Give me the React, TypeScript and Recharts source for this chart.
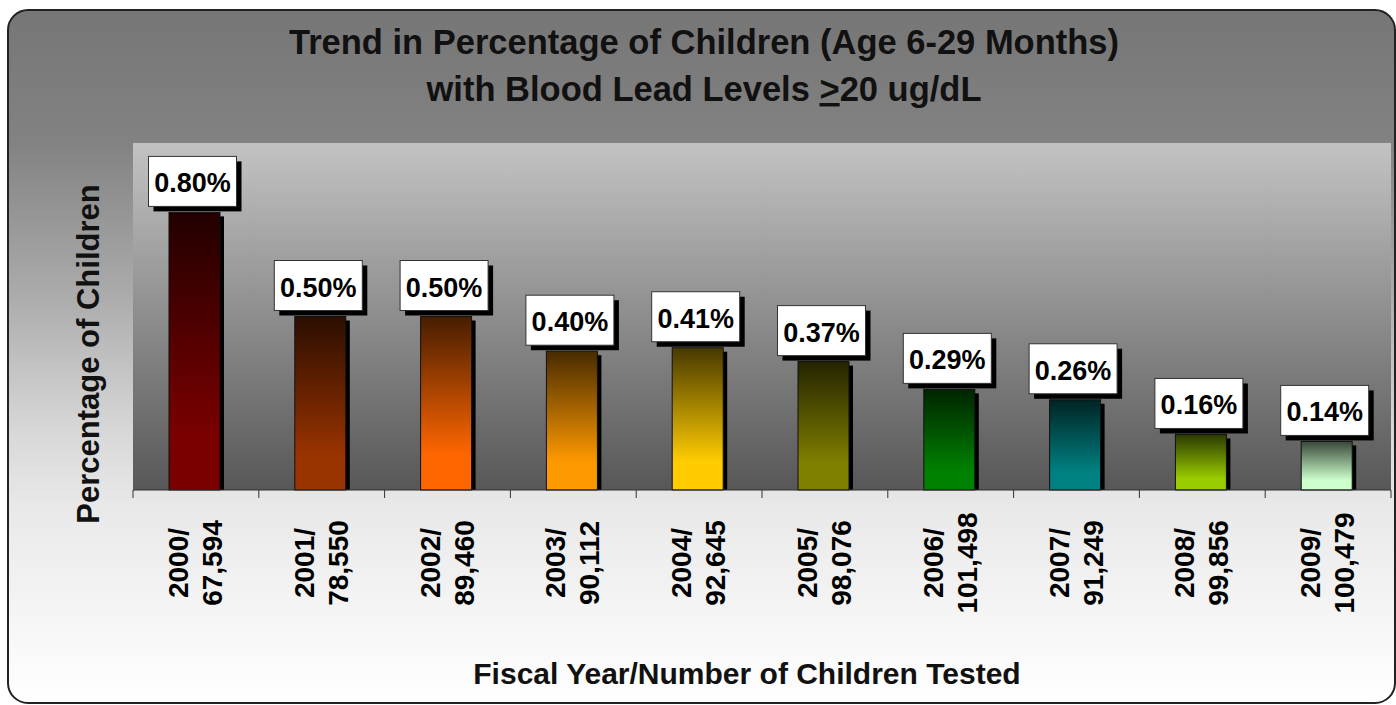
import React from 'react';
import { BarChart, Bar, XAxis, YAxis, CartesianGrid, LabelList } from 'recharts';

const YEARS = ['2000', '2001', '2002', '2003', '2004', '2005', '2006', '2007', '2008', '2009'];
const TESTED = ['67,594', '78,550', '89,460', '90,112', '92,645', '98,076', '101,498', '91,249', '99,856', '100,479'];
const PERCENT = [0.8, 0.5, 0.5, 0.4, 0.41, 0.37, 0.29, 0.26, 0.16, 0.14];

const BAR_COLORS = [
  '#7a0000', // dark red
  '#993300', // brown
  '#ff6600', // orange
  '#ff9900', // light orange
  '#ffcc00', // gold
  '#808000', // olive
  '#008000', // green
  '#008080', // teal
  '#99cc00', // lime
  '#ccffcc', // pale green
];

const W = 1396;
const H = 705;
const PLOT = { left: 133, top: 143, right: 1391, bottom: 490 };
const BAND = (PLOT.right - PLOT.left) / YEARS.length;
const FONT = "'Liberation Sans', Arial, sans-serif";

const data = YEARS.map((year, i) => ({ year, tested: TESTED[i], value: PERCENT[i] }));

function darken(hex: string, f: number) {
  const n = parseInt(hex.slice(1), 16);
  const r = Math.round(((n >> 16) & 255) * f);
  const g = Math.round(((n >> 8) & 255) * f);
  const b = Math.round((n & 255) * f);
  return `rgb(${r},${g},${b})`;
}

function YearTick(props: any) {
  const { x, payload } = props;
  const i = YEARS.indexOf(payload.value);
  const left = x - BAND / 2;
  return (
    <g>
      <line x1={left} x2={left} y1={PLOT.bottom} y2={PLOT.bottom + 8} stroke="#333" />
      {i === YEARS.length - 1 && (
        <line x1={x + BAND / 2} x2={x + BAND / 2} y1={PLOT.bottom} y2={PLOT.bottom + 8} stroke="#333" />
      )}
      <text
        transform={`translate(${x},563) rotate(-90)`}
        textAnchor="middle"
        fontSize={28}
        fontWeight="bold"
        fontFamily={FONT}
        fill="#000"
      >
        <tspan x={0} y={-8}>{payload.value}/</tspan>
        <tspan x={0} y={26}>{TESTED[i]}</tspan>
      </text>
    </g>
  );
}

function BarShape(props: any) {
  const { x, y, width, height, index } = props;
  const bx = x - 1;
  return (
    <g>
      <rect x={bx + 4} y={y + 4} width={width} height={Math.max(0, height - 4)} fill="#000" />
      <rect x={bx} y={y} width={width} height={height} fill={`url(#barGrad${index})`} stroke="#111" strokeWidth={1} />
    </g>
  );
}

function LabelBox(props: any) {
  const { x, y, width, value } = props;
  const cx = x + width / 2 - 3;
  const bw = 88;
  const bh = 50;
  const top = y - 6 - bh;
  return (
    <g>
      <rect x={cx - bw / 2 + 5} y={top + 5} width={bw} height={bh} fill="#000" />
      <rect x={cx - bw / 2} y={top} width={bw} height={bh} fill="#fff" stroke="#333" strokeWidth={1} />
      <text x={cx} y={top + 36} textAnchor="middle" fontSize={27} fontWeight="bold" fontFamily={FONT} fill="#000">
        {`${Number(value).toFixed(2)}%`}
      </text>
    </g>
  );
}

export default function App() {
  return (
    <div style={{ position: 'absolute', left: 0, top: 0, width: W, height: H, background: '#fff', overflow: 'hidden' }}>
      <svg width={W} height={H} style={{ position: 'absolute', left: 0, top: 0 }}>
        <defs>
          <linearGradient id="frameBg" x1="0" y1="0" x2="0" y2="1">
            <stop offset="0" stopColor="#767676" />
            <stop offset="0.19" stopColor="#828282" />
            <stop offset="0.42" stopColor="#adadad" />
            <stop offset="0.6" stopColor="#d6d6d6" />
            <stop offset="0.72" stopColor="#e9e9e9" />
            <stop offset="1" stopColor="#ffffff" />
          </linearGradient>
          <linearGradient id="plotBg" x1="0" y1="0" x2="0" y2="1">
            <stop offset="0" stopColor="#c3c3c3" />
            <stop offset="1" stopColor="#575757" />
          </linearGradient>
          {BAR_COLORS.map((c, i) => (
            <linearGradient key={i} id={`barGrad${i}`} x1="0" y1="0" x2="0" y2="1">
              <stop offset="0" stopColor={darken(c, 0.28)} />
              <stop offset="0.8" stopColor={c} />
              <stop offset="1" stopColor={c} />
            </linearGradient>
          ))}
        </defs>
        <rect x={8} y={10} width={1387} height={693} rx={20} ry={20} fill="url(#frameBg)" stroke="#222" strokeWidth={2} />
      </svg>
      <div style={{ position: 'absolute', left: 0, top: 0 }}>
        <BarChart
          width={W}
          height={H}
          data={data}
          margin={{ top: PLOT.top, right: W - PLOT.right, left: PLOT.left, bottom: 0 }}
          barCategoryGap={0}
        >
          <CartesianGrid horizontal={false} vertical={false} fill="url(#plotBg)" />
          <XAxis
            dataKey="year"
            interval={0}
            height={H - PLOT.bottom}
            tickLine={false}
            axisLine={{ stroke: '#333' }}
            tick={<YearTick />}
          />
          <YAxis width={0} domain={[0, 1]} tick={false} tickLine={false} axisLine={{ stroke: '#aaa' }} />
          <Bar dataKey="value" barSize={51} isAnimationActive={false} shape={<BarShape />}>
            <LabelList dataKey="value" content={<LabelBox />} />
          </Bar>
        </BarChart>
      </div>
      <svg width={W} height={H} style={{ position: 'absolute', left: 0, top: 0, pointerEvents: 'none' }}>
        <g fontFamily={FONT} fontWeight="bold" fill="#111">
          <text x={704} y={54} textAnchor="middle" fontSize={34.5}>
            Trend in Percentage of Children (Age 6-29 Months)
          </text>
          <text x={704} y={101} textAnchor="middle" fontSize={34.5}>
            with Blood Lead Levels <tspan textDecoration="underline">&gt;</tspan>20 ug/dL
          </text>
          <text transform="translate(99,354) rotate(-90)" textAnchor="middle" fontSize={31}>
            Percentage of Children
          </text>
          <text x={747} y={684} textAnchor="middle" fontSize={30}>
            Fiscal Year/Number of Children Tested
          </text>
        </g>
      </svg>
    </div>
  );
}
